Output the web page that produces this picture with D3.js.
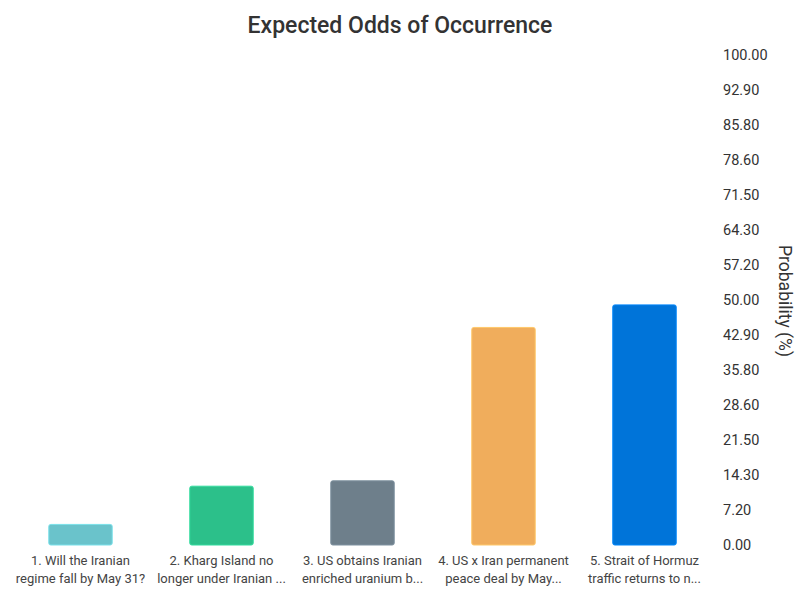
<!DOCTYPE html>
<html><head><meta charset="utf-8">
<script src="https://cdn.jsdelivr.net/npm/d3@7"></script>
<style>body{margin:0;background:#fff;font-family:Roboto,"Noto Sans",sans-serif;}</style>
</head><body>
<svg id="c" width="800" height="600"></svg>
<script>
const categories = [
  ["1. Will the Iranian", "regime fall by May 31?"],
  ["2. Kharg Island no", "longer under Iranian ..."],
  ["3. US obtains Iranian", "enriched uranium b..."],
  ["4. US x Iran permanent", "peace deal by May..."],
  ["5. Strait of Hormuz", "traffic returns to n..."]
];
const values = [4.2, 12.0, 13.1, 44.4, 49.0];
const colors = ["#6ac3cb", "#2cc08a", "#6e7f8b", "#f0ad5c", "#0074d9"];
const tickLabels = ["0.00","7.20","14.30","21.50","28.60","35.80","42.90","50.00","57.20","64.30","71.50","78.60","85.80","92.90","100.00"];
const title = "Expected Odds of Occurrence";
const yTitle = "Probability (%)";

const svg = d3.select("#c");
const x = d3.scaleBand().domain(d3.range(values.length)).range([10, 715]).paddingInner(0.55).paddingOuter(0.275);
const y = d3.scaleLinear().domain([0, 100]).range([545, 55]);

svg.append("text").attr("x", 400).attr("y", 33).attr("text-anchor", "middle")
  .attr("font-size", 23).attr("font-weight", 500).attr("fill", "#333").text(title);

const tickVals = tickLabels.map((d, i) => i * 100 / (tickLabels.length - 1));
const axis = d3.axisRight(y).tickValues(tickVals).tickSize(0).tickPadding(8)
  .tickFormat((d, i) => tickLabels[i]);
const ag = svg.append("g").attr("transform", "translate(715,0)").call(axis);
ag.select(".domain").remove();
ag.selectAll("text").attr("font-size", 14.5).attr("fill", "#333").attr("font-family", "Roboto");

svg.append("text").attr("transform", "translate(779,301) rotate(90)").attr("text-anchor", "middle")
  .attr("font-size", 17.5).attr("fill", "#333").text(yTitle);

svg.append("g").selectAll("rect").data(values).join("rect")
  .attr("x", (d, i) => x(i)).attr("width", x.bandwidth())
  .attr("y", d => y(d)).attr("height", d => y(0) - y(d))
  .attr("rx", 2).attr("fill", (d, i) => colors[i])
  .attr("stroke", (d, i) => d3.color(colors[i]).brighter(0.4)).attr("stroke-width", 1);

const lg = svg.append("g").selectAll("text").data(categories).join("text")
  .attr("text-anchor", "middle").attr("font-size", 13).attr("fill", "#444")
  .attr("x", (d, i) => x(i) + x.bandwidth() / 2);
lg.selectAll("tspan").data(d => d).join("tspan")
  .attr("x", function() { return this.parentNode.getAttribute("x"); })
  .attr("y", (d, j) => 565 + j * 18).text(d => d);
</script>
</body></html>
